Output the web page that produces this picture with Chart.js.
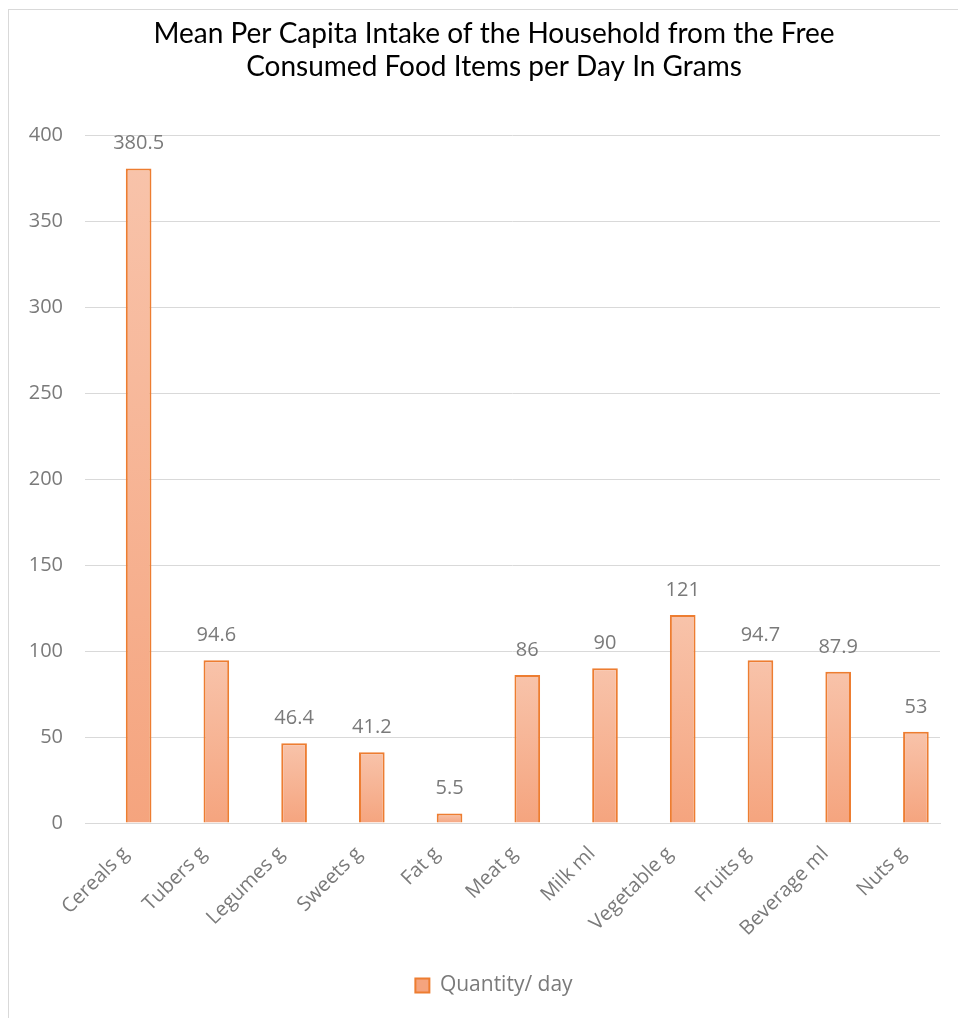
<!DOCTYPE html>
<html lang="en">
<head>
    <meta charset="UTF-8">
    <title>Mean Per Capita Intake</title>
    <script src="https://cdn.jsdelivr.net/npm/chart.js"></script>
    <style>
        body {
            margin: 0;
            padding: 0;
            background-color: #ffffff;
            overflow: hidden;
        }

        .frame {
            position: absolute;
            left: 8px;
            top: 9px;
            width: 1200px;
            height: 1200px;
            border: 1px solid #d9d9d9;
            box-sizing: border-box;
        }

        .chart-box {
            position: absolute;
            left: 0;
            top: 0;
            width: 958px;
            height: 1018px;
        }
    </style>
</head>
<body>
    <div class="frame"></div>
    <div class="chart-box">
        <canvas id="intakeChart" width="958" height="1018"></canvas>
    </div>

    <script>
        // Values
        const categories = ['Cereals g', 'Tubers g', 'Legumes g', 'Sweets g', 'Fat g', 'Meat g',
            'Milk ml', 'Vegetable g', 'Fruits g', 'Beverage ml', 'Nuts g'];
        const quantityPerDay = [380.5, 94.6, 46.4, 41.2, 5.5, 86, 90, 121, 94.7, 87.9, 53];
        const yTicks = [0, 50, 100, 150, 200, 250, 300, 350, 400];

        const textGray = '#7a7a7a';
        const barBorder = '#ed7d31';

        // y labels are mirrored (so they are not clipped to the narrow axis box)
        // and pulled back left of the plot by the widest label
        const measure = document.createElement('canvas').getContext('2d');
        measure.font = '20px Open Sans';
        const widestTick = Math.max(...yTicks.map(t => measure.measureText(String(t)).width));

        // Gradient per bar, lighter at the top like the Excel fill
        function barFill(ctx) {
            if (ctx.type !== 'data') {
                return '#f7b99c';
            }
            const chart = ctx.chart;
            if (!chart.chartArea) {
                return '#f7b99c';
            }
            const y = chart.scales.y;
            const top = y.getPixelForValue(ctx.raw.y);
            const bottom = y.getPixelForValue(0);
            const g = chart.ctx.createLinearGradient(0, top, 0, bottom + 1);
            g.addColorStop(0, '#f8c3aa');
            g.addColorStop(1, '#f5a47e');
            return g;
        }

        // Value labels above each bar
        const valueLabels = {
            id: 'valueLabels',
            afterDatasetsDraw(chart) {
                const ctx = chart.ctx;
                const meta = chart.getDatasetMeta(0);
                ctx.save();
                ctx.font = '20px "Open Sans"';
                ctx.fillStyle = textGray;
                ctx.textAlign = 'center';
                ctx.textBaseline = 'middle';
                meta.data.forEach((bar, i) => {
                    ctx.fillText(String(quantityPerDay[i]), bar.x, bar.y - 25);
                });
                ctx.restore();
            }
        };

        // The category slots in the reference sit a bit right of the gridlines,
        // so the x axis is a linear one with the categories at 0..10
        new Chart(document.getElementById('intakeChart'), {
            type: 'bar',
            data: {
                datasets: [{
                    label: 'Quantity/ day',
                    data: quantityPerDay.map((v, i) => ({ x: i, y: v })),
                    backgroundColor: barFill,
                    borderColor: barBorder,
                    borderWidth: 2,
                    borderSkipped: 'bottom',
                    barPercentage: 1,
                    categoryPercentage: 0.33
                }]
            },
            options: {
                responsive: false,
                animation: false,
                layout: {
                    padding: { left: 48, right: 18, top: 0, bottom: 12 }
                },
                scales: {
                    y: {
                        min: 0,
                        max: 400,
                        afterBuildTicks(scale) {
                            scale.ticks = yTicks.map(v => ({ value: v }));
                        },
                        afterFit(scale) {
                            scale.width = 37;
                        },
                        border: { display: false },
                        grid: {
                            color: '#d9d9d9',
                            lineWidth: 1,
                            drawTicks: false
                        },
                        ticks: {
                            color: textGray,
                            mirror: true,
                            crossAlign: 'far',
                            padding: -22 - widestTick,
                            font: { family: 'Open Sans', size: 20 }
                        }
                    },
                    x: {
                        type: 'linear',
                        offset: false,
                        min: -0.69,
                        max: 10.31,
                        afterBuildTicks(scale) {
                            scale.ticks = categories.map((c, i) => ({ value: i }));
                        },
                        afterFit(scale) {
                            scale.height = 142;
                        },
                        border: { color: '#d9d9d9', width: 1 },
                        grid: { display: false },
                        ticks: {
                            color: textGray,
                            minRotation: 45,
                            maxRotation: 45,
                            padding: 11,
                            labelOffset: -13,
                            autoSkip: false,
                            callback: (value) => categories[value],
                            font: { family: 'Open Sans', size: 20 }
                        }
                    }
                },
                plugins: {
                    title: {
                        display: true,
                        text: ['Mean Per Capita Intake of the Household from the Free',
                            'Consumed Food Items per Day In Grams'],
                        color: '#000000',
                        font: { family: 'Lato', size: 28, weight: 'normal', lineHeight: 1.18 },
                        padding: { top: 17, bottom: 52 }
                    },
                    legend: {
                        position: 'bottom',
                        labels: {
                            color: textGray,
                            boxWidth: 14,
                            boxHeight: 14,
                            padding: 10,
                            font: { family: 'Open Sans', size: 21 }
                        }
                    },
                    tooltip: { enabled: false }
                }
            },
            plugins: [valueLabels]
        });
    </script>
</body>
</html>
